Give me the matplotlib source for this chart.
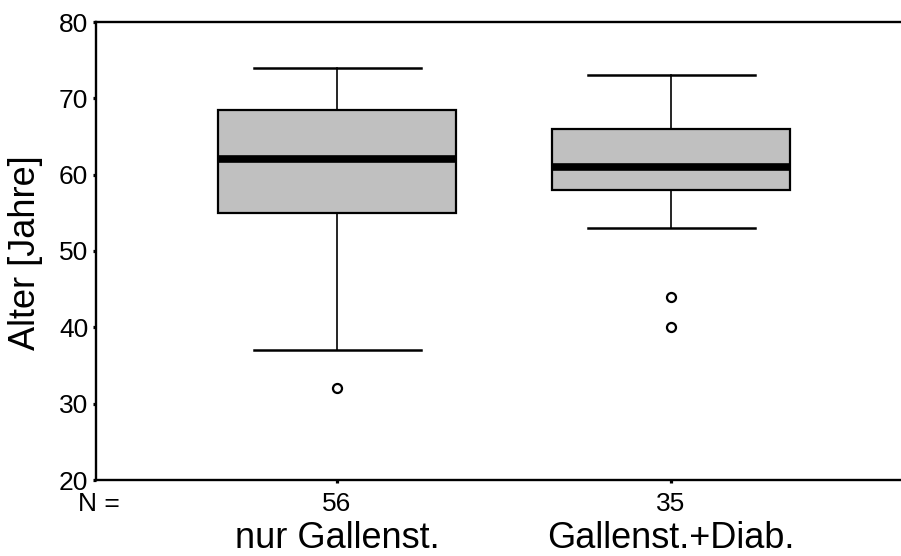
import matplotlib
matplotlib.use('Agg')
import matplotlib.pyplot as plt
import matplotlib.transforms as mtransforms

plt.rcParams['font.family'] = ['Liberation Sans', 'DejaVu Sans']

# Data
groups = ['nur Gallenst.', 'Gallenst.+Diab.']
n_counts = [56, 35]
whis_low = [37, 53]
q1 = [55, 58]
medians = [62, 61]
q3 = [68.5, 66]
whis_high = [74, 73]
outliers = [[32], [44, 40]]

stats = []
for i in range(len(groups)):
    stats.append({'label': str(n_counts[i]), 'whislo': whis_low[i], 'q1': q1[i],
                  'med': medians[i], 'q3': q3[i], 'whishi': whis_high[i],
                  'fliers': outliers[i]})

fig = plt.figure(figsize=(9.01, 5.56), dpi=100)
ax = fig.add_axes([96/901, 1 - 480/556, 1 - 96/901, (480 - 22)/556])

positions = [1, 2]
ax.bxp(stats, positions=positions, widths=0.713, capwidths=0.5, patch_artist=True,
       boxprops=dict(facecolor='#c0c0c0', edgecolor='black', linewidth=1.6),
       medianprops=dict(color='black', linewidth=5.5, solid_capstyle='butt'),
       whiskerprops=dict(color='black', linewidth=1.2),
       capprops=dict(color='black', linewidth=1.8),
       flierprops=dict(marker='o', markerfacecolor='white', markeredgecolor='black',
                       markersize=6.5, markeredgewidth=1.6))

ax.set_ylim(20, 80)
ax.set_xlim(0.2784, 2.6886)
ax.set_yticks(range(20, 81, 10))
ax.tick_params(axis='y', direction='out', length=2.5, width=2.3, pad=3, labelsize=19)
ax.tick_params(axis='x', direction='out', length=2.5, width=2.3, pad=6, labelsize=19)
ax.set_xticks(positions)
ax.set_xticklabels([str(n) for n in n_counts])

for side in ['left', 'bottom', 'top']:
    ax.spines[side].set_linewidth(1.7)
ax.spines['right'].set_visible(False)

fig.text(26/901, 1 - 253/556, 'Alter [Jahre]', rotation=90, ha='center', va='center', fontsize=26)

trans = mtransforms.blended_transform_factory(ax.transData, fig.transFigure)
for p, g in zip(positions, groups):
    ax.text(p, 1 - 548/556, g, transform=trans, ha='center', va='baseline', fontsize=26)

fig.text(78/901, 1 - 511/556, 'N =', ha='left', va='baseline', fontsize=19)

plt.savefig('out.png', dpi=100)
